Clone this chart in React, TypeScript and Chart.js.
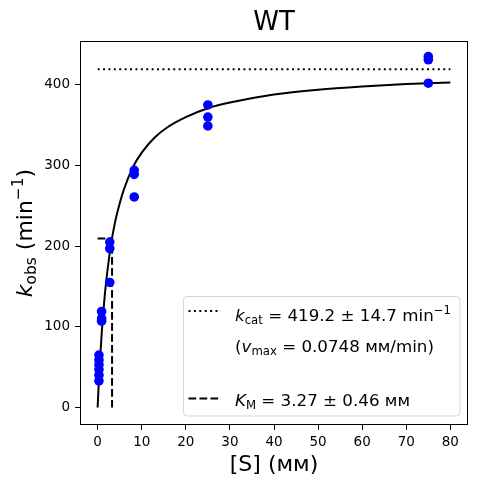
import { useEffect, useRef } from "react";
import { Chart, registerables } from "chart.js";

Chart.register(...registerables);

// measured substrate concentrations (mM) and observed rates (1/min)
const sConc = [
  0.3, 0.3, 0.3, 0.3, 0.3, 0.3,
  0.9, 0.9, 0.9,
  2.75, 2.75, 2.75,
  8.3, 8.3, 8.3,
  25, 25, 25,
  75, 75, 75,
];
const kObs = [
  65, 59, 53, 47, 40, 33,
  119, 110, 107,
  205, 197, 155,
  294, 289, 261,
  375, 360, 349,
  435, 431, 402,
];

// fitted Michaelis-Menten curve, sampled off the plot
const fitS = [0, 0.25, 0.5, 1, 1.5, 2, 3, 4, 5, 6, 8, 10, 13, 16, 20, 25, 30, 40, 50, 60, 70, 80];
const fitK = [0, 30, 56, 98, 132, 159, 201, 231, 253, 271, 298, 316, 335, 348, 360, 371, 378, 388, 394, 398, 401, 403];

// kcat plateau (dotted) and Km marker (dashed)
const kcatX = [0, 80];
const kcatY = [419.2, 419.2];
const kmX = [0, 3.27, 3.27];
const kmY = [209.6, 209.6, 0];

const xTicks = [0, 10, 20, 30, 40, 50, 60, 70, 80];
const yTicks = [0, 100, 200, 300, 400];

const FONT = '"DejaVu Sans"';

type Seg = { t: string; it?: boolean; sub?: boolean; sup?: boolean };

const segFont = (s: Seg, size: number) => {
  const sz = s.sub || s.sup ? size * 0.7 : size;
  return `${s.it ? "italic " : ""}${sz}px ${FONT}`;
};

const richWidth = (ctx: CanvasRenderingContext2D, segs: Seg[], size: number) => {
  let w = 0;
  segs.forEach((s) => {
    ctx.font = segFont(s, size);
    w += ctx.measureText(s.t).width;
  });
  return w;
};

const drawRich = (ctx: CanvasRenderingContext2D, segs: Seg[], x: number, y: number, size: number) => {
  let cx = x;
  ctx.textAlign = "left";
  ctx.textBaseline = "alphabetic";
  segs.forEach((s) => {
    ctx.font = segFont(s, size);
    let dy = 0;
    if (s.sub) dy = size * 0.2;
    if (s.sup) dy = -size * 0.4;
    ctx.fillText(s.t, cx, y + dy);
    cx += ctx.measureText(s.t).width;
  });
};

const legendRows: Seg[][] = [
  [{ t: "k", it: true }, { t: "cat", sub: true }, { t: " = 419.2 ± 14.7 min" }, { t: "−1", sup: true }],
  [{ t: "(" }, { t: "v", it: true }, { t: "max", sub: true }, { t: " = 0.0748 мм/min)" }],
  [{ t: "K", it: true }, { t: "M", sub: true }, { t: " = 3.27 ± 0.46 мм" }],
];

const decorations = {
  id: "decorations",
  afterDraw(chart: any) {
    const { ctx, chartArea: a } = chart;
    ctx.save();
    ctx.fillStyle = "#000";
    ctx.strokeStyle = "#000";

    // frame
    ctx.lineWidth = 1;
    ctx.strokeRect(a.left + 0.5, a.top + 0.5, a.right - a.left - 1, a.bottom - a.top - 1);

    // title
    ctx.font = `26px ${FONT}`;
    ctx.textAlign = "center";
    ctx.textBaseline = "alphabetic";
    ctx.fillText("WT", (a.left + a.right) / 2, 30);

    // x label
    ctx.font = `22px ${FONT}`;
    ctx.fillText("[S] (мм)", (a.left + a.right) / 2, 471);

    // y label
    const ySegs: Seg[] = [{ t: "k", it: true }, { t: "obs", sub: true }, { t: " (min" }, { t: "−1", sup: true }, { t: ")" }];
    const yw = richWidth(ctx, ySegs, 22);
    ctx.save();
    ctx.translate(32, (a.top + a.bottom) / 2);
    ctx.rotate(-Math.PI / 2);
    drawRich(ctx, ySegs, -yw / 2, 0, 22);
    ctx.restore();

    // legend box
    const lx = 183.5, ly = 296.5, lw = 276.5, lh = 119.5, r = 3.5;
    ctx.beginPath();
    ctx.moveTo(lx + r, ly);
    ctx.arcTo(lx + lw, ly, lx + lw, ly + lh, r);
    ctx.arcTo(lx + lw, ly + lh, lx, ly + lh, r);
    ctx.arcTo(lx, ly + lh, lx, ly, r);
    ctx.arcTo(lx, ly, lx + lw, ly, r);
    ctx.closePath();
    ctx.fillStyle = "rgba(255,255,255,0.8)";
    ctx.fill();
    ctx.strokeStyle = "rgba(204,204,204,0.8)";
    ctx.lineWidth = 1;
    ctx.stroke();

    // legend handles
    ctx.strokeStyle = "#000";
    ctx.lineWidth = 2;
    ctx.setLineDash([2, 3.4]);
    ctx.beginPath();
    ctx.moveTo(188.5, 311);
    ctx.lineTo(221, 311);
    ctx.stroke();
    ctx.setLineDash([7.7, 3.3]);
    ctx.beginPath();
    ctx.moveTo(188.5, 398.5);
    ctx.lineTo(221, 398.5);
    ctx.stroke();
    ctx.setLineDash([]);

    // legend texts
    ctx.fillStyle = "#000";
    drawRich(ctx, legendRows[0], 235, 321, 16.7);
    drawRich(ctx, legendRows[1], 235, 352, 16.7);
    drawRich(ctx, legendRows[2], 235, 406, 16.7);

    ctx.restore();
  },
};

const App = () => {
  const canvasRef = useRef<HTMLCanvasElement | null>(null);
  const chartRef = useRef<Chart | null>(null);

  useEffect(() => {
    document.body.style.margin = "0";
    if (chartRef.current) chartRef.current.destroy();
    if (!canvasRef.current) return;

    const toPts = (xs: number[], ys: number[]) => xs.map((x, i) => ({ x, y: ys[i] }));
    const tickFont = { family: FONT, size: 13.5 };

    chartRef.current = new Chart(canvasRef.current, {
      type: "scatter",
      data: {
        datasets: [
          {
            label: "data",
            data: toPts(sConc, kObs),
            backgroundColor: "#0000ff",
            borderWidth: 0,
            pointRadius: 4.8,
            order: 0,
          },
          {
            label: "fit",
            data: toPts(fitS, fitK),
            showLine: true,
            borderColor: "#000",
            borderWidth: 2,
            pointRadius: 0,
            cubicInterpolationMode: "monotone",
            order: 1,
          },
          {
            label: "kcat",
            data: toPts(kcatX, kcatY),
            showLine: true,
            borderColor: "#000",
            borderWidth: 2,
            borderDash: [2, 3.4],
            pointRadius: 0,
            order: 2,
          },
          {
            label: "Km",
            data: toPts(kmX, kmY),
            showLine: true,
            borderColor: "#000",
            borderWidth: 2,
            borderDash: [7.7, 3.3],
            pointRadius: 0,
            order: 3,
          },
        ],
      },
      options: {
        responsive: false,
        animation: false,
        layout: { padding: { left: 0, top: 41, right: 9, bottom: 0 } },
        plugins: {
          legend: { display: false },
          tooltip: { enabled: false },
          title: { display: false },
        },
        scales: {
          x: {
            type: "linear",
            min: -4,
            max: 84,
            afterBuildTicks: (scale: any) => {
              scale.ticks = xTicks.map((v) => ({ value: v }));
            },
            afterFit: (scale: any) => {
              scale.height = 59;
            },
            grid: { drawOnChartArea: false, drawTicks: true, tickLength: 5, color: "#000", lineWidth: 1 },
            border: { display: false },
            ticks: { color: "#000", font: tickFont, padding: 4, maxRotation: 0 },
          },
          y: {
            type: "linear",
            min: -21.7,
            max: 454.3,
            afterBuildTicks: (scale: any) => {
              scale.ticks = yTicks.map((v) => ({ value: v }));
            },
            afterFit: (scale: any) => {
              scale.width = 80;
            },
            grid: { drawOnChartArea: false, drawTicks: true, tickLength: 5, color: "#000", lineWidth: 1 },
            border: { display: false },
            ticks: { color: "#000", font: tickFont, padding: 5 },
          },
        },
      },
      plugins: [decorations],
    });

    return () => {
      if (chartRef.current) {
        chartRef.current.destroy();
        chartRef.current = null;
      }
    };
  }, []);

  return (
    <div style={{ width: "477px", height: "484px" }}>
      <canvas ref={canvasRef} width={477} height={484} style={{ display: "block" }} />
    </div>
  );
};

export default App;
